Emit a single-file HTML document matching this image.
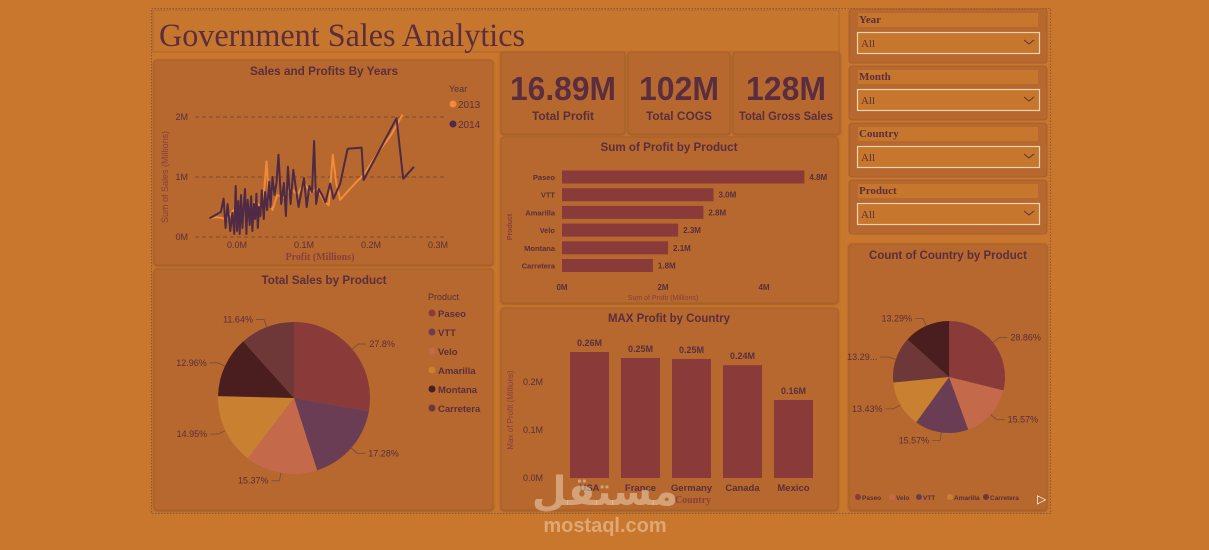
<!DOCTYPE html>
<html><head><meta charset="utf-8">
<style>
html,body{margin:0;padding:0;background:#C8772D;width:1209px;height:550px;overflow:hidden;font-family:"Liberation Sans",sans-serif}
svg{position:absolute;left:0;top:0}
.t{font-family:"Liberation Sans Narrow","Liberation Sans",sans-serif;font-weight:bold;fill:#5A2E3E}
.s{font-family:"Liberation Serif",serif;fill:#5A2E3E}
.ax{font-family:"Liberation Sans",sans-serif;font-size:9px;fill:#5A2E3E}
</style></head><body>
<svg id="dash" width="1209" height="550" viewBox="0 0 1209 550">
<defs>
<filter id="sh" x="-5%" y="-5%" width="110%" height="110%"><feDropShadow dx="0" dy="1" stdDeviation="1.2" flood-color="#6b3a1a" flood-opacity="0.5"/></filter>
</defs>
<rect x="151.5" y="8.5" width="899" height="505" fill="none" stroke="#8a5a3a" stroke-dasharray="1.5 1.5"/>
<rect x="153" y="10" width="686" height="42" fill="#C7762E" stroke="#b06530"/>
<text x="159" y="46" class="s" font-size="33" textLength="366" lengthAdjust="spacingAndGlyphs">Government Sales Analytics</text>
<g fill="#B6682F" stroke="#a85f2c" filter="url(#sh)">
<rect x="154" y="60" width="339" height="205" rx="3"/>
<rect x="154" y="269" width="339" height="241" rx="3"/>
<rect x="501" y="52" width="124" height="82" rx="3"/>
<rect x="628" y="52" width="102" height="82" rx="3"/>
<rect x="733" y="52" width="107" height="82" rx="3"/>
<rect x="501" y="137" width="337" height="166" rx="3"/>
<rect x="501" y="308" width="337" height="202" rx="3"/>
<rect x="849" y="244" width="198" height="266" rx="3"/>
</g>
<text x="563" y="100" class="t" font-size="33" text-anchor="middle" textLength="106" lengthAdjust="spacingAndGlyphs">16.89M</text>
<text x="563" y="120" class="t" font-size="12" text-anchor="middle" textLength="62" lengthAdjust="spacingAndGlyphs">Total Profit</text>
<text x="679" y="100" class="t" font-size="33" text-anchor="middle" textLength="80" lengthAdjust="spacingAndGlyphs">102M</text>
<text x="679" y="120" class="t" font-size="12" text-anchor="middle" textLength="66" lengthAdjust="spacingAndGlyphs">Total  COGS</text>
<text x="786" y="100" class="t" font-size="33" text-anchor="middle" textLength="80" lengthAdjust="spacingAndGlyphs">128M</text>
<text x="786" y="120" class="t" font-size="12" text-anchor="middle" textLength="94" lengthAdjust="spacingAndGlyphs">Total Gross Sales</text>
<text x="324" y="75" class="t" font-size="12" text-anchor="middle" textLength="148" lengthAdjust="spacingAndGlyphs">Sales and Profits By Years</text>
<text x="324" y="284" class="t" font-size="12" text-anchor="middle" textLength="125" lengthAdjust="spacingAndGlyphs">Total Sales by Product</text>
<text x="669" y="151" class="t" font-size="12" text-anchor="middle" textLength="137" lengthAdjust="spacingAndGlyphs">Sum of Profit by Product</text>
<text x="669" y="322" class="t" font-size="12" text-anchor="middle" textLength="122" lengthAdjust="spacingAndGlyphs">MAX Profit by Country</text>
<text x="948" y="259" class="t" font-size="12" text-anchor="middle" textLength="158" lengthAdjust="spacingAndGlyphs">Count of Country by Product</text>
<g id="slicers"></g>
<g id="line"></g>
<g id="pie1"></g>
<g id="bars"></g>
<g id="cols"></g>
<g id="pie2"></g>
<text x="605" y="505" font-family="'Noto Sans CJK SC','DejaVu Sans',sans-serif" font-size="40" font-weight="bold" fill="#f3d9c0" fill-opacity="0.5" text-anchor="middle">مستقل</text>
<text x="605" y="532" font-family="'Liberation Sans',sans-serif" font-size="20" font-weight="bold" fill="#f3d9c0" fill-opacity="0.5" text-anchor="middle">mostaql.com</text>
<text x="1037" y="503" font-size="12" fill="#fff">▷</text>
</svg>
<script>
const NS='http://www.w3.org/2000/svg';
function mk(p,tag,a,txt){const e=document.createElementNS(NS,tag);for(const k in a)e.setAttribute(k,a[k]);if(txt!==undefined)e.textContent=txt;p.appendChild(e);return e;}
const DK='#5A2E3E';

const slicerNames=['Year','Month','Country','Product'];
const slicerTops=[9,66,123,180];
const sg=document.getElementById('slicers');
slicerNames.forEach((n,i)=>{
  const y=slicerTops[i];
  const p=mk(sg,'rect',{x:849,y:y,width:198,height:54,rx:3,fill:'#B6682F',stroke:'#a85f2c'});
  
  
  mk(sg,'rect',{x:858,y:y+4,width:180,height:14,fill:'#C7762E'});
  const h=mk(sg,'text',{x:859,y:y+14,'font-family':'Liberation Serif,serif','font-weight':'bold','font-size':11,fill:DK},n);
  
  
  const b=mk(sg,'rect',{x:857.5,y:y+23.5,width:182,height:21,fill:'#C7762E',stroke:'#f1d2b0','stroke-width':1.2});
  
  
  mk(sg,'text',{x:861,y:y+38,'font-family':'Liberation Serif,serif','font-size':11,fill:'#5a3535'},'All');
  mk(sg,'path',{d:`M1024 ${y+31} l5 4 l5 -4`,fill:'none',stroke:'#5a3535','stroke-width':1});
});

const lineTicksX=[0,0.1,0.2,0.3];
const lineTickLabelsX=['0.0M','0.1M','0.2M','0.3M'];
const lineTicksY=[0,1,2];
const lineTickLabelsY=['0M','1M','2M'];
const profit2013=[-0.041,-0.03,-0.015,-0.005,0.005,0.012,0.02,0.028,0.035,0.04,0.044,0.048,0.053,0.06,0.07,0.08,0.09,0.1,0.11,0.12,0.13,0.137,0.143,0.148,0.154,0.17,0.19,0.21,0.23,0.247];
const sales2013=[0.31,0.33,0.3,0.45,0.35,0.5,0.42,0.6,0.5,0.7,1.26,0.6,0.45,0.7,0.65,0.82,0.7,0.9,0.75,0.8,0.6,0.53,1.37,0.9,0.62,0.82,1.05,1.4,1.7,2.04];
const profit2014=[-0.041,-0.03,-0.024,-0.02,-0.017,-0.014,-0.01,-0.007,-0.004,-0.002,0.0,0.002,0.004,0.006,0.008,0.01,0.012,0.014,0.016,0.019,0.021,0.023,0.025,0.027,0.029,0.031,0.033,0.035,0.037,0.04,0.042,0.045,0.048,0.05,0.053,0.056,0.059,0.062,0.066,0.07,0.073,0.076,0.08,0.084,0.088,0.092,0.096,0.1,0.104,0.108,0.112,0.115,0.118,0.122,0.127,0.132,0.139,0.144,0.154,0.165,0.186,0.189,0.238,0.248,0.264];
const sales2014=[0.31,0.38,0.42,0.64,0.15,0.55,0.1,0.4,0.05,0.85,0.1,0.6,0.05,0.7,0.15,0.5,0.8,0.05,0.62,0.2,0.68,0.1,0.55,0.3,0.72,0.15,0.5,0.35,0.78,0.3,0.75,0.45,0.92,0.5,1.0,0.7,0.9,1.37,0.55,0.9,0.35,1.17,0.55,1.12,0.8,0.5,0.75,0.98,0.5,0.85,0.75,1.6,0.55,0.8,0.7,0.58,0.89,0.64,0.89,1.47,1.49,0.95,1.98,0.97,1.17];
const lg=document.getElementById('line');
const lx=v=>237+v*670, ly=v=>237-v*60;
lineTicksY.forEach((t,i)=>{
  const gl=mk(lg,'line',{x1:195,x2:445,y1:ly(t),y2:ly(t),stroke:'#6b3e33','stroke-dasharray':'4 3','stroke-width':0.8});
  
  
  mk(lg,'text',{x:188,y:ly(t)+3,class:'ax','text-anchor':'end'},lineTickLabelsY[i]);
});
lineTicksX.forEach((t,i)=>{mk(lg,'text',{x:lx(t),y:248,class:'ax','text-anchor':'middle'},lineTickLabelsX[i]);});
const xt=mk(lg,'text',{x:320,y:260,'font-family':'Liberation Serif,serif','font-weight':'bold','font-size':10,fill:'#8a3e3e','text-anchor':'middle'},'Profit (Millions)');

const yt=mk(lg,'text',{x:0,y:0,transform:'translate(168,177) rotate(-90)','font-size':9,fill:'#8a3e3e','text-anchor':'middle'},'Sum of Sales (Millions)');

function series(px,py,col,name){
  const d=px.map((p,i)=>(i?'L':'M')+lx(p).toFixed(1)+' '+ly(py[i]).toFixed(1)).join(' ');
  const e=mk(lg,'path',{d:d,fill:'none',stroke:col,'stroke-width':2,'stroke-linejoin':'round'});
  
}
series(profit2013,sales2013,'#F28A3A','series-2013-line');
series(profit2014,sales2014,'#4F2A44','series-2014-line');
mk(lg,'text',{x:449,y:92,'font-size':9,fill:DK},'Year');
const l1=mk(lg,'circle',{cx:453,cy:104,r:3.5,fill:'#F28A3A'});
mk(lg,'text',{x:458,y:108,'font-size':10,fill:DK},'2013');
const l2=mk(lg,'circle',{cx:453,cy:124,r:3.5,fill:'#4F2A44'});
mk(lg,'text',{x:458,y:128,'font-size':10,fill:DK},'2014');

function pie(g,cx,cy,r,vals,cols,labels,prefix){
  let a=-Math.PI/2;const tot=vals.reduce((s,v)=>s+v,0);
  vals.forEach((v,i)=>{
    const da=v/tot*2*Math.PI,a2=a+da;
    const x1=cx+r*Math.cos(a),y1=cy+r*Math.sin(a),x2=cx+r*Math.cos(a2),y2=cy+r*Math.sin(a2);
    const s=mk(g,'path',{d:`M${cx} ${cy} L${x1} ${y1} A${r} ${r} 0 ${da>Math.PI?1:0} 1 ${x2} ${y2}Z`,fill:cols[i]});
    
    const m=(a+a2)/2,c=Math.cos(m),sn=Math.sin(m);
    const ex=cx+(r+8)*c,ey=cy+(r+8)*sn,hx=ex+(c>=0?8:-8);
    mk(g,'path',{d:`M${cx+r*c} ${cy+r*sn} L${ex} ${ey} L${hx} ${ey}`,fill:'none',stroke:'#7a4a3a','stroke-width':0.8});
    mk(g,'text',{x:hx+(c>=0?3:-3),y:ey+3,'font-size':9,fill:DK,'text-anchor':c>=0?'start':'end'},labels[i]);
    a=a2;
  });
}
const salesProducts=['Paseo','VTT','Velo','Amarilla','Montana','Carretera'];
const salesShare=[27.8,17.28,15.37,14.95,12.96,11.64];
const salesLabels=['27.8%','17.28%','15.37%','14.95%','12.96%','11.64%'];
const salesColors=['#8B3A3A','#6A3D55','#C46A4A','#C98030','#4A1E1E','#6E3838'];
const p1=document.getElementById('pie1');
pie(p1,294,398,76,salesShare,salesColors,salesLabels,'sales-pie');
mk(p1,'text',{x:428,y:300,'font-size':9,fill:DK},'Product');
salesProducts.forEach((n,i)=>{
  const c=mk(p1,'circle',{cx:432,cy:313+i*19,r:3.5,fill:salesColors[i]});
  
  mk(p1,'text',{x:438,y:317+i*19,'font-size':9.5,'font-weight':'bold',fill:DK},n);
});
const countProducts=['Paseo','Velo','VTT','Amarilla','Carretera','Montana'];
const countShare=[28.86,15.57,15.57,13.43,13.29,13.29];
const countLabels=['28.86%','15.57%','15.57%','13.43%','13.29...','13.29%'];
const countColors=['#8B3A3A','#C46A4A','#6A3D55','#C98030','#6E3838','#4A1E1E'];
const p2=document.getElementById('pie2');
pie(p2,949,377,56,countShare,countColors,countLabels,'count-pie');
const legX=[858,892,919,950,986];
countProducts.slice(0,5).forEach((n,i)=>{
  const c=mk(p2,'circle',{cx:legX[i],cy:497,r:3,fill:countColors[i]});
  
  mk(p2,'text',{x:legX[i]+4,y:500,'font-size':6.5,'font-weight':'bold',fill:DK},n);
});

const barProducts=['Paseo','VTT','Amarilla','Velo','Montana','Carretera'];
const barProfit=[4.8,3.0,2.8,2.3,2.1,1.8];
const barLabels=['4.8M','3.0M','2.8M','2.3M','2.1M','1.8M'];
const barTicks=[0,2,4];
const barTickLabels=['0M','2M','4M'];
const bg=document.getElementById('bars');
const bx=v=>562+v*50.5, by=i=>177+i*17.7;
barProducts.forEach((n,i)=>{
  const r=mk(bg,'rect',{x:bx(0),y:by(i)-6.5,width:bx(barProfit[i])-bx(0),height:13,fill:'#8B3A3A'});
  
  mk(bg,'text',{x:555,y:by(i)+3,'font-size':7.5,'font-weight':'bold',fill:DK,'text-anchor':'end'},n);
  mk(bg,'text',{x:bx(barProfit[i])+5,y:by(i)+3,'font-size':8,'font-weight':'bold',fill:DK},barLabels[i]);
});
barTicks.forEach((t,i)=>mk(bg,'text',{x:bx(t),y:290,'font-size':8,'font-weight':'bold',fill:DK,'text-anchor':'middle'},barTickLabels[i]));
mk(bg,'text',{x:663,y:300,'font-size':7,fill:'#8a3e3e','text-anchor':'middle'},'Sum of Profit (Millions)');
mk(bg,'text',{x:0,y:0,transform:'translate(512,227) rotate(-90)','font-size':7,'font-weight':'bold',fill:'#8a3e3e','text-anchor':'middle'},'Product');

const countries=['USA','France','Germany','Canada','Mexico'];
const maxProfit=[0.2625,0.25,0.248,0.235,0.1625];
const colLabels=['0.26M','0.25M','0.25M','0.24M','0.16M'];
const colTicks=[0,0.1,0.2];
const colTickLabels=['0.0M','0.1M','0.2M'];
const cg=document.getElementById('cols');
const cy0=v=>478-v*480, cx0=i=>570+i*51;
colTicks.forEach((t,i)=>mk(cg,'text',{x:543,y:cy0(t)+3,'font-size':9,fill:DK,'text-anchor':'end'},colTickLabels[i]));
countries.forEach((n,i)=>{
  const r=mk(cg,'rect',{x:cx0(i),y:cy0(maxProfit[i]),width:39,height:cy0(0)-cy0(maxProfit[i]),fill:'#8B3A3A'});
  
  mk(cg,'text',{x:cx0(i)+19.5,y:cy0(maxProfit[i])-6,'font-size':9,'font-weight':'bold',fill:DK,'text-anchor':'middle'},colLabels[i]);
  mk(cg,'text',{x:cx0(i)+19.5,y:491,'font-size':9.5,'font-weight':'bold',fill:DK,'text-anchor':'middle'},n);
});
mk(cg,'text',{x:693,y:503,'font-family':'Liberation Serif,serif','font-size':10,'font-weight':'bold',fill:'#8a3e3e','text-anchor':'middle'},'Country');
mk(cg,'text',{x:0,y:0,transform:'translate(513,410) rotate(-90)','font-size':8,fill:'#8a3e3e','text-anchor':'middle'},'Max of Profit (Millions)');
</script>
</body></html>
